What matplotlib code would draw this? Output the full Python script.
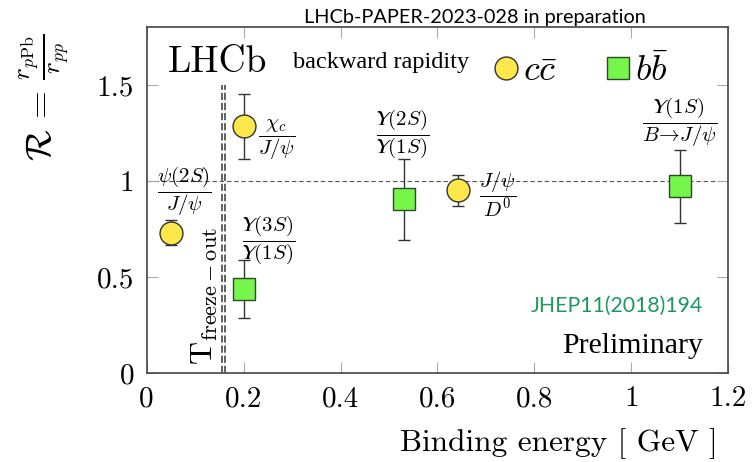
import matplotlib
matplotlib.use("Agg")
import matplotlib.pyplot as plt
from matplotlib.lines import Line2D

plt.rcParams['mathtext.fontset'] = 'cm'
plt.rcParams['font.family'] = 'cmr10'
plt.rcParams['axes.formatter.use_mathtext'] = True

# charmonium ratios (c cbar)
cc_energy = [0.05, 0.20, 0.643]
cc_ratio = [0.73, 1.285, 0.952]
cc_err = [0.065, 0.17, 0.08]
cc_labels = [r'$\dfrac{\psi(2S)}{J/\psi}$', r'$\dfrac{\chi_c}{J/\psi}$', r'$\dfrac{J/\psi}{D^0}$']

# bottomonium ratios (b bbar)
bb_energy = [0.20, 0.53, 1.10]
bb_ratio = [0.438, 0.906, 0.972]
bb_err = [0.15, 0.21, 0.19]
bb_labels = [r'$\dfrac{𝛶(3S)}{𝛶(1S)}$',
             r'$\dfrac{𝛶(2S)}{𝛶(1S)}$',
             r'$\dfrac{𝛶(1S)}{B\!\rightarrow\! J/\psi}$']

t_freeze = [0.155, 0.161]
xticks = [0, 0.2, 0.4, 0.6, 0.8, 1.0, 1.2]
yticks = [0, 0.5, 1.0, 1.5]

# label placement relative to each point (offset points, ha)
cc_offsets = [((10, 30), 'center'), ((10.5, -10), 'left'), ((15, -3), 'left')]
bb_offsets = [((18, 35.5), 'center'), ((-1, 47), 'center'), ((0, 46), 'center')]

yellow = '#fce84a'
green = '#76f54a'

fig = plt.figure(figsize=(7.53, 4.62), dpi=100)
ax = fig.add_axes([0.1948, 0.192, 0.7724, 0.7489])

ax.axhline(1.0, color='#555555', lw=0.8, dashes=(4, 2.5), zorder=1)
for xv in t_freeze:
    ax.vlines(xv, 0, 1.5, color='#555555', lw=1.3, linestyles=(0, (4, 1.6)), zorder=1)

ax.errorbar(cc_energy, cc_ratio, yerr=cc_err, fmt='o', ms=16.5, mfc=yellow, mec='#333333',
            mew=1.0, ecolor='#333333', elinewidth=1.0, capsize=4.5, capthick=1.0, zorder=3)
ax.errorbar(bb_energy, bb_ratio, yerr=bb_err, fmt='s', ms=16, mfc=green, mec='#2b4a24',
            mew=1.0, ecolor='#333333', elinewidth=1.0, capsize=4.5, capthick=1.0, zorder=3)

for x, y, lab, (off, ha) in zip(cc_energy, cc_ratio, cc_labels, cc_offsets):
    ax.annotate(lab, (x, y), xytext=off, textcoords='offset points', ha=ha, va='center', fontsize=15)
for x, y, lab, (off, ha) in zip(bb_energy, bb_ratio, bb_labels, bb_offsets):
    ax.annotate(lab, (x, y), xytext=off, textcoords='offset points', ha=ha, va='center', fontsize=15)

ax.text(0.12, 0.40, r'$\mathrm{T}_{\mathrm{freeze-out}}$', rotation=90, fontsize=23,
        ha='center', va='center')

ax.text(0.0366, 0.871, 'LHCb', transform=ax.transAxes, fontsize=27, va='baseline')
ax.text(0.2516, 0.882, 'backward rapidity', transform=ax.transAxes, fontsize=17.5,
        family='Liberation Serif', va='baseline')

handles = [Line2D([], [], ls='none', marker='o', ms=16.5, mfc=yellow, mec='#333333'),
           Line2D([], [], ls='none', marker='s', ms=16, mfc=green, mec='#2b4a24')]
ax.legend(handles, [r'$c\bar{c}$', r'$b\bar{b}$'], ncol=2, frameon=False, fontsize=26,
          loc='center left', bbox_to_anchor=(0.597, 0.876), handlelength=0.665,
          handletextpad=0.14, columnspacing=1.38, borderpad=0, borderaxespad=0)

ax.text(0.9565, 0.195, 'JHEP11(2018)194', transform=ax.transAxes, fontsize=15.3,
        family='Lato', color='#1a9a5e', ha='right', va='center')
ax.text(0.9565, 0.06, 'Preliminary', transform=ax.transAxes, fontsize=21.5,
        family='Liberation Serif', ha='right', va='baseline')

fig.text(0.63, 0.962, 'LHCb-PAPER-2023-028 in preparation', fontsize=14.3, family='Lato',
         ha='center', va='center')

ax.set_xlim(0, 1.2)
ax.set_ylim(0, 1.8)
ax.set_xticks(xticks)
ax.set_xticklabels(['0', '0.2', '0.4', '0.6', '0.8', '1', '1.2'])
ax.set_yticks(yticks)
ax.set_yticklabels(['0', '0.5', '1', '1.5'])
ax.tick_params(direction='in', top=True, right=True, length=8, width=0.8, color='#aaaaaa',
               labelsize=21, pad=9)
for s in ax.spines.values():
    s.set_color('#444444')
    s.set_linewidth(1.2)

ax.set_xlabel('Binding energy [ GeV ]', fontsize=22.5, loc='right')
ax.xaxis.set_label_coords(0.982, -0.158)

fig.text(0.06, 0.79, r'$\mathcal{R}\, =\, \frac{r_{p\mathrm{Pb}}}{r_{pp}}$', rotation=90,
         fontsize=26, ha='center', va='center')

fig.savefig('out.png', dpi=100)
